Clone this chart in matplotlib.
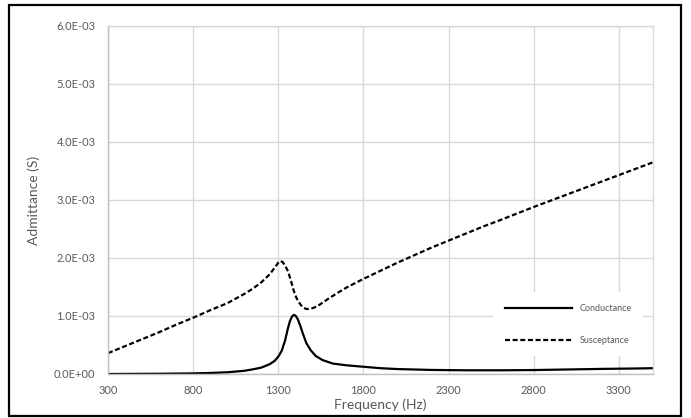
import matplotlib
matplotlib.use('Agg')
import matplotlib.pyplot as plt
from matplotlib.ticker import FuncFormatter, MultipleLocator
from matplotlib.patches import Rectangle

plt.rcParams['font.family'] = ['Lato', 'DejaVu Sans']
plt.rcParams['lines.scale_dashes'] = False

# readings in units of 1e-3 S
freq_g = [300, 600, 800, 900, 1000, 1100, 1150, 1200, 1250, 1280, 1300, 1320, 1340,
          1355, 1368, 1380, 1392, 1403, 1415, 1428, 1445, 1465, 1490, 1520, 1560, 1620,
          1700, 1800, 1900, 2000, 2200, 2400, 2600, 2800, 3000, 3200, 3400, 3500]
conductance = [0.000, 0.004, 0.010, 0.018, 0.030, 0.055, 0.080, 0.110, 0.170, 0.230,
               0.300, 0.400, 0.580, 0.770, 0.910, 0.990, 1.020, 1.000, 0.940, 0.840,
               0.690, 0.530, 0.410, 0.310, 0.240, 0.180, 0.150, 0.125, 0.100, 0.085,
               0.070, 0.064, 0.064, 0.068, 0.078, 0.088, 0.095, 0.100]

freq_b = [300, 400, 500, 600, 700, 800, 900, 1000, 1050, 1100, 1150, 1200, 1250, 1280,
          1300, 1312, 1325, 1340, 1357, 1375, 1390, 1405, 1420, 1440, 1460, 1475, 1490,
          1510, 1540, 1600, 1660, 1700, 1800, 1900, 2000, 2100, 2200, 2300, 2400, 2500,
          2600, 2800, 3000, 3200, 3300, 3400, 3500]
susceptance = [0.36, 0.48, 0.60, 0.72, 0.85, 0.97, 1.10, 1.22, 1.30, 1.38, 1.47, 1.58,
               1.72, 1.84, 1.92, 1.95, 1.93, 1.87, 1.77, 1.60, 1.44, 1.32, 1.24, 1.16,
               1.125, 1.12, 1.125, 1.145, 1.19, 1.31, 1.42, 1.49, 1.64, 1.78, 1.92, 2.05,
               2.18, 2.30, 2.42, 2.54, 2.65, 2.88, 3.10, 3.32, 3.43, 3.54, 3.65]

fig = plt.figure(figsize=(6.91, 4.18), dpi=100)
ax = fig.add_axes([108/691, 1 - 374/418, (653 - 108)/691, (374 - 26)/418])

ax.plot(freq_g, [v * 1e-3 for v in conductance], color='black', lw=1.6, label='Conductance')
ax.plot(freq_b, [v * 1e-3 for v in susceptance], color='black', lw=1.6,
        dashes=(3.6, 1.9), label='Susceptance')

ax.set_xlim(300, 3500)
ax.set_ylim(0, 6e-3)
ax.set_xticks([300, 800, 1300, 1800, 2300, 2800, 3300])
ax.yaxis.set_major_locator(MultipleLocator(1e-3))


def sci(v, pos):
    if abs(v) < 1e-12:
        return '0.0E+00'
    return '%.1E' % v


ax.yaxis.set_major_formatter(FuncFormatter(sci))
ax.grid(True, color='#d9d9d9', lw=1.0)
ax.set_axisbelow(True)
for s in ax.spines.values():
    s.set_color('#d9d9d9')
    s.set_linewidth(1.0)
ax.spines['left'].set_color('#bfbfbf')
ax.spines['bottom'].set_color('#bfbfbf')
ax.tick_params(length=0, labelsize=8, labelcolor='#595959')
ax.tick_params(axis='x', pad=8)
ax.tick_params(axis='y', pad=9)

ax.set_xlabel('Frequency (Hz)', fontsize=10, color='#595959', labelpad=2)
ax.set_ylabel('Admittance (S)', fontsize=10, color='#595959', labelpad=10)

leg = ax.legend(loc='lower right', bbox_to_anchor=(648/691, 1 - 361/418), bbox_transform=fig.transFigure,
                frameon=True, fontsize=6.5, handlelength=7.5, labelspacing=2.5,
                borderpad=1.3, handletextpad=0.8, labelcolor='#595959')
leg.get_frame().set_edgecolor('none')
leg.get_frame().set_facecolor('white')
leg.get_frame().set_alpha(1)

fig.patches.append(Rectangle((9/691, 1 - 416/418), (681 - 9)/691, (416 - 5)/418,
                             transform=fig.transFigure, fill=False, edgecolor='black', lw=1.6))

fig.savefig('out.png', dpi=100)
